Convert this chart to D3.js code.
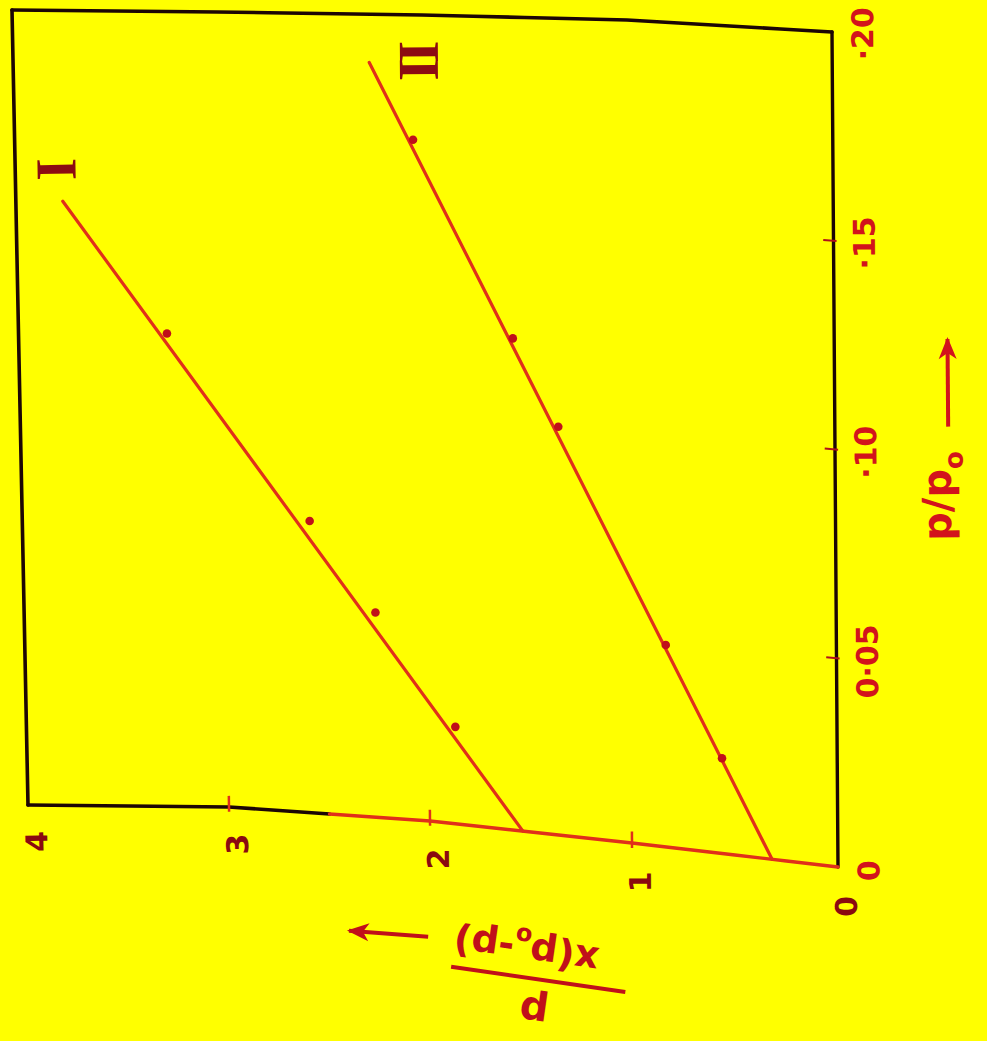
<!DOCTYPE html>
<html>
<head>
<meta charset="utf-8">
<script src="https://cdn.jsdelivr.net/npm/d3@7"></script>
<style>
  html, body { margin: 0; padding: 0; background: #ffff00; }
  svg { display: block; }
</style>
</head>
<body>
<script>
// ---- data -------------------------------------------------------------
// p/p0 axis
const xTicks = [0, 0.05, 0.10, 0.15, 0.20];
const xTickLabels = ["0", "0·05", "·10", "·15", "·20"];
// p / x(p0 - p) axis
const yTicks = [0, 1, 2, 3, 4];
const yTickLabels = ["0", "1", "2", "3", "4"];

// Series I: measured points and its straight-line fit
const seriesIx = [0.024, 0.051, 0.073, 0.119];
const seriesIy = [1.87, 2.26, 2.58, 3.27];
const fitIx = [0, 0.152];
const fitIy = [1.54, 3.77];

// Series II
const seriesIIx = [0.023, 0.049, 0.100, 0.121, 0.169];
const seriesIIy = [0.56, 0.83, 1.35, 1.57, 2.05];
const fitIIx = [0, 0.188];
const fitIIy = [0.32, 2.26];

const seriesNames = ["I", "II"];

// ---- page ---------------------------------------------------------------
const W = 987, H = 1041;
const svg = d3.select("body").append("svg").attr("width", W).attr("height", H);
svg.append("rect").attr("width", W).attr("height", H).attr("fill", "#ffff00");

// The sheet is turned a quarter turn and slightly bent: p/p0 runs up the
// right edge, p/x(p0-p) runs leftwards along the bottom edge.
const tScale = d3.scaleLinear().domain([xTicks[0], xTicks[xTicks.length - 1]]).range([0, 1]);
const botX = d3.scaleLinear().domain(yTicks).range([838, 632, 430, 229, 28]);
const botY = d3.scaleLinear().domain(yTicks).range([867, 843, 821, 807, 805]);
const topX = d3.scaleLinear().domain(yTicks).range([832, 627, 422, 217, 12]);
const topY = d3.scaleLinear().domain(yTicks).range([32, 20, 15, 12, 10]);

function P(x, y) {
  const t = tScale(x);
  const bx = botX(y), by = botY(y);
  return [bx + (topX(y) - bx) * t, by + (topY(y) - by) * t];
}
function angle(p, q) { return Math.atan2(q[1] - p[1], q[0] - p[0]) * 180 / Math.PI; }
function upAngle(x, y) { return angle(P(x - 0.01, y), P(x + 0.01, y)); }
function leftAngle(x, y) { return angle(P(x, y - 0.1), P(x, y + 0.1)); }
const line = d3.line();

const INK = "#1c0604";
const RED = "#e0301a";
const DARKRED = "#b0101a";

// ---- frame -----------------------------------------------------------
const ySamples = d3.range(0, 4.0001, 0.25);
const frame = svg.append("g").attr("fill", "none").attr("stroke-linecap", "round").attr("stroke-linejoin", "round");
frame.append("path").attr("d", line(ySamples.filter(y => y >= 2.5).map(y => P(0, y))))
  .attr("stroke", INK).attr("stroke-width", 3.6);
frame.append("path").attr("d", line([P(0, 0), P(0.2, 0)])).attr("stroke", INK).attr("stroke-width", 3.4);
frame.append("path").attr("d", line(ySamples.map(y => P(0.2, y)))).attr("stroke", INK).attr("stroke-width", 3.6);
frame.append("path").attr("d", line([P(0, 4), P(0.2, 4)])).attr("stroke", INK).attr("stroke-width", 3.6);
frame.append("path").attr("d", line(ySamples.filter(y => y <= 2.5).map(y => P(0, y))))
  .attr("stroke", RED).attr("stroke-width", 3.4);

// ticks on the p/p0 axis
svg.append("g").selectAll("path").data(xTicks.slice(1, -1)).join("path")
  .attr("d", d => line([P(d, 0.05), P(d, -0.015)]))
  .attr("stroke", DARKRED).attr("stroke-width", 2);
// ticks on the p/x(p0-p) axis
svg.append("g").selectAll("path").data(yTicks.slice(1, -1)).join("path")
  .attr("d", d => line([P(0.0028, d), P(-0.0012, d)]))
  .attr("stroke", RED).attr("stroke-width", 2.5);

// ---- tick labels -----------------------------------------------------
const font = "'DejaVu Sans', sans-serif";
svg.append("g").selectAll("text").data(xTicks).join("text")
  .attr("transform", d => { const p = P(d, -0.15); return `translate(${p[0]},${p[1]}) rotate(${upAngle(d, 0)})`; })
  .attr("text-anchor", "middle").attr("dominant-baseline", "central")
  .attr("font-family", font).attr("font-weight", "bold").attr("font-size", 30)
  .attr("fill", "#d2141c")
  .text((d, i) => xTickLabels[i]);

svg.append("g").selectAll("text").data(yTicks).join("text")
  .attr("transform", d => { const p = P(-0.0092, d - 0.04); return `translate(${p[0]},${p[1]}) rotate(${upAngle(0, d)})`; })
  .attr("text-anchor", "middle").attr("dominant-baseline", "central")
  .attr("font-family", font).attr("font-weight", "bold").attr("font-size", 30)
  .attr("fill", "#8a0a10")
  .text((d, i) => yTickLabels[i]);

// ---- series ----------------------------------------------------------
const series = [
  { name: seriesNames[0], px: seriesIx, py: seriesIy, fx: fitIx, fy: fitIy, lab: [0.008, 0.03] },
  { name: seriesNames[1], px: seriesIIx, py: seriesIIy, fx: fitIIx, fy: fitIIy, lab: [0.0, -0.24] }
];
series.forEach(s => {
  const g = svg.append("g");
  g.append("path")
    .attr("d", line(s.fx.map((x, i) => P(x, s.fy[i]))))
    .attr("fill", "none").attr("stroke", RED).attr("stroke-width", 3.2).attr("stroke-linecap", "round");
  g.selectAll("circle").data(s.px.map((x, i) => P(x, s.py[i]))).join("circle")
    .attr("cx", d => d[0]).attr("cy", d => d[1]).attr("r", 4.3).attr("fill", "#c0101a");
  const lx = s.fx[1] + s.lab[0], ly = s.fy[1] + s.lab[1];
  const p = P(lx, ly);
  g.append("text")
    .attr("transform", `translate(${p[0]},${p[1]}) rotate(${upAngle(lx, ly)})`)
    .attr("text-anchor", "middle").attr("dominant-baseline", "central")
    .attr("font-family", "'Liberation Serif', serif").attr("font-weight", "bold").attr("font-size", 58)
    .attr("letter-spacing", s.name.length > 1 ? -5 : 0)
    .attr("fill", "#8c0c12")
    .text(s.name);
});

// ---- axis titles -----------------------------------------------------
function arrow(g, from, to, color) {
  const a = angle(from, to);
  g.append("path").attr("d", line([from, to])).attr("stroke", color).attr("stroke-width", 4).attr("fill", "none");
  g.append("path")
    .attr("transform", `translate(${to[0]},${to[1]}) rotate(${a})`)
    .attr("d", "M2,0 L-20,-9 L-14,0 L-20,9 Z").attr("fill", color);
}

// p/p0 -->
{
  const g = svg.append("g");
  const x0 = 0.0807, y0 = -0.563;
  const p = P(x0, y0);
  const t = g.append("text")
    .attr("transform", `translate(${p[0]},${p[1]}) rotate(${upAngle(x0, 0)})`)
    .attr("font-family", font).attr("font-weight", "bold").attr("font-size", 40)
    .attr("fill", "#d2141c");
  t.append("tspan").text("p/p");
  t.append("tspan").attr("dy", 12).attr("font-size", 26).text("o");
  arrow(g, P(0.1078, -0.552), P(0.1286, -0.552), "#d2141c");
}

// p / x(p0 - p) -->
{
  const g = svg.append("g");
  const x0 = -0.036, y0 = 1.47;
  const p = P(x0, y0);
  const inner = g.append("g")
    .attr("transform", `translate(${p[0]},${p[1]}) rotate(${leftAngle(0, y0) + 2})`)
    .attr("font-family", font).attr("font-weight", "bold").attr("fill", "#c0101a");
  inner.append("text").attr("x", 0).attr("y", -33)
    .attr("text-anchor", "middle").attr("dominant-baseline", "central").attr("font-size", 40)
    .text("p");
  inner.append("line").attr("x1", -88).attr("x2", 88).attr("y1", 0).attr("y2", 0)
    .attr("stroke", "#c0101a").attr("stroke-width", 4);
  const den = inner.append("text").attr("x", 16).attr("y", 40)
    .attr("text-anchor", "middle").attr("font-size", 38);
  den.append("tspan").text("x(p");
  den.append("tspan").attr("dy", 9).attr("font-size", 24).text("o");
  den.append("tspan").attr("dy", -9).text("-p)");
  arrow(g, P(-0.0288, 2.015), P(-0.0288, 2.41), "#c0101a");
}
</script>
</body>
</html>
